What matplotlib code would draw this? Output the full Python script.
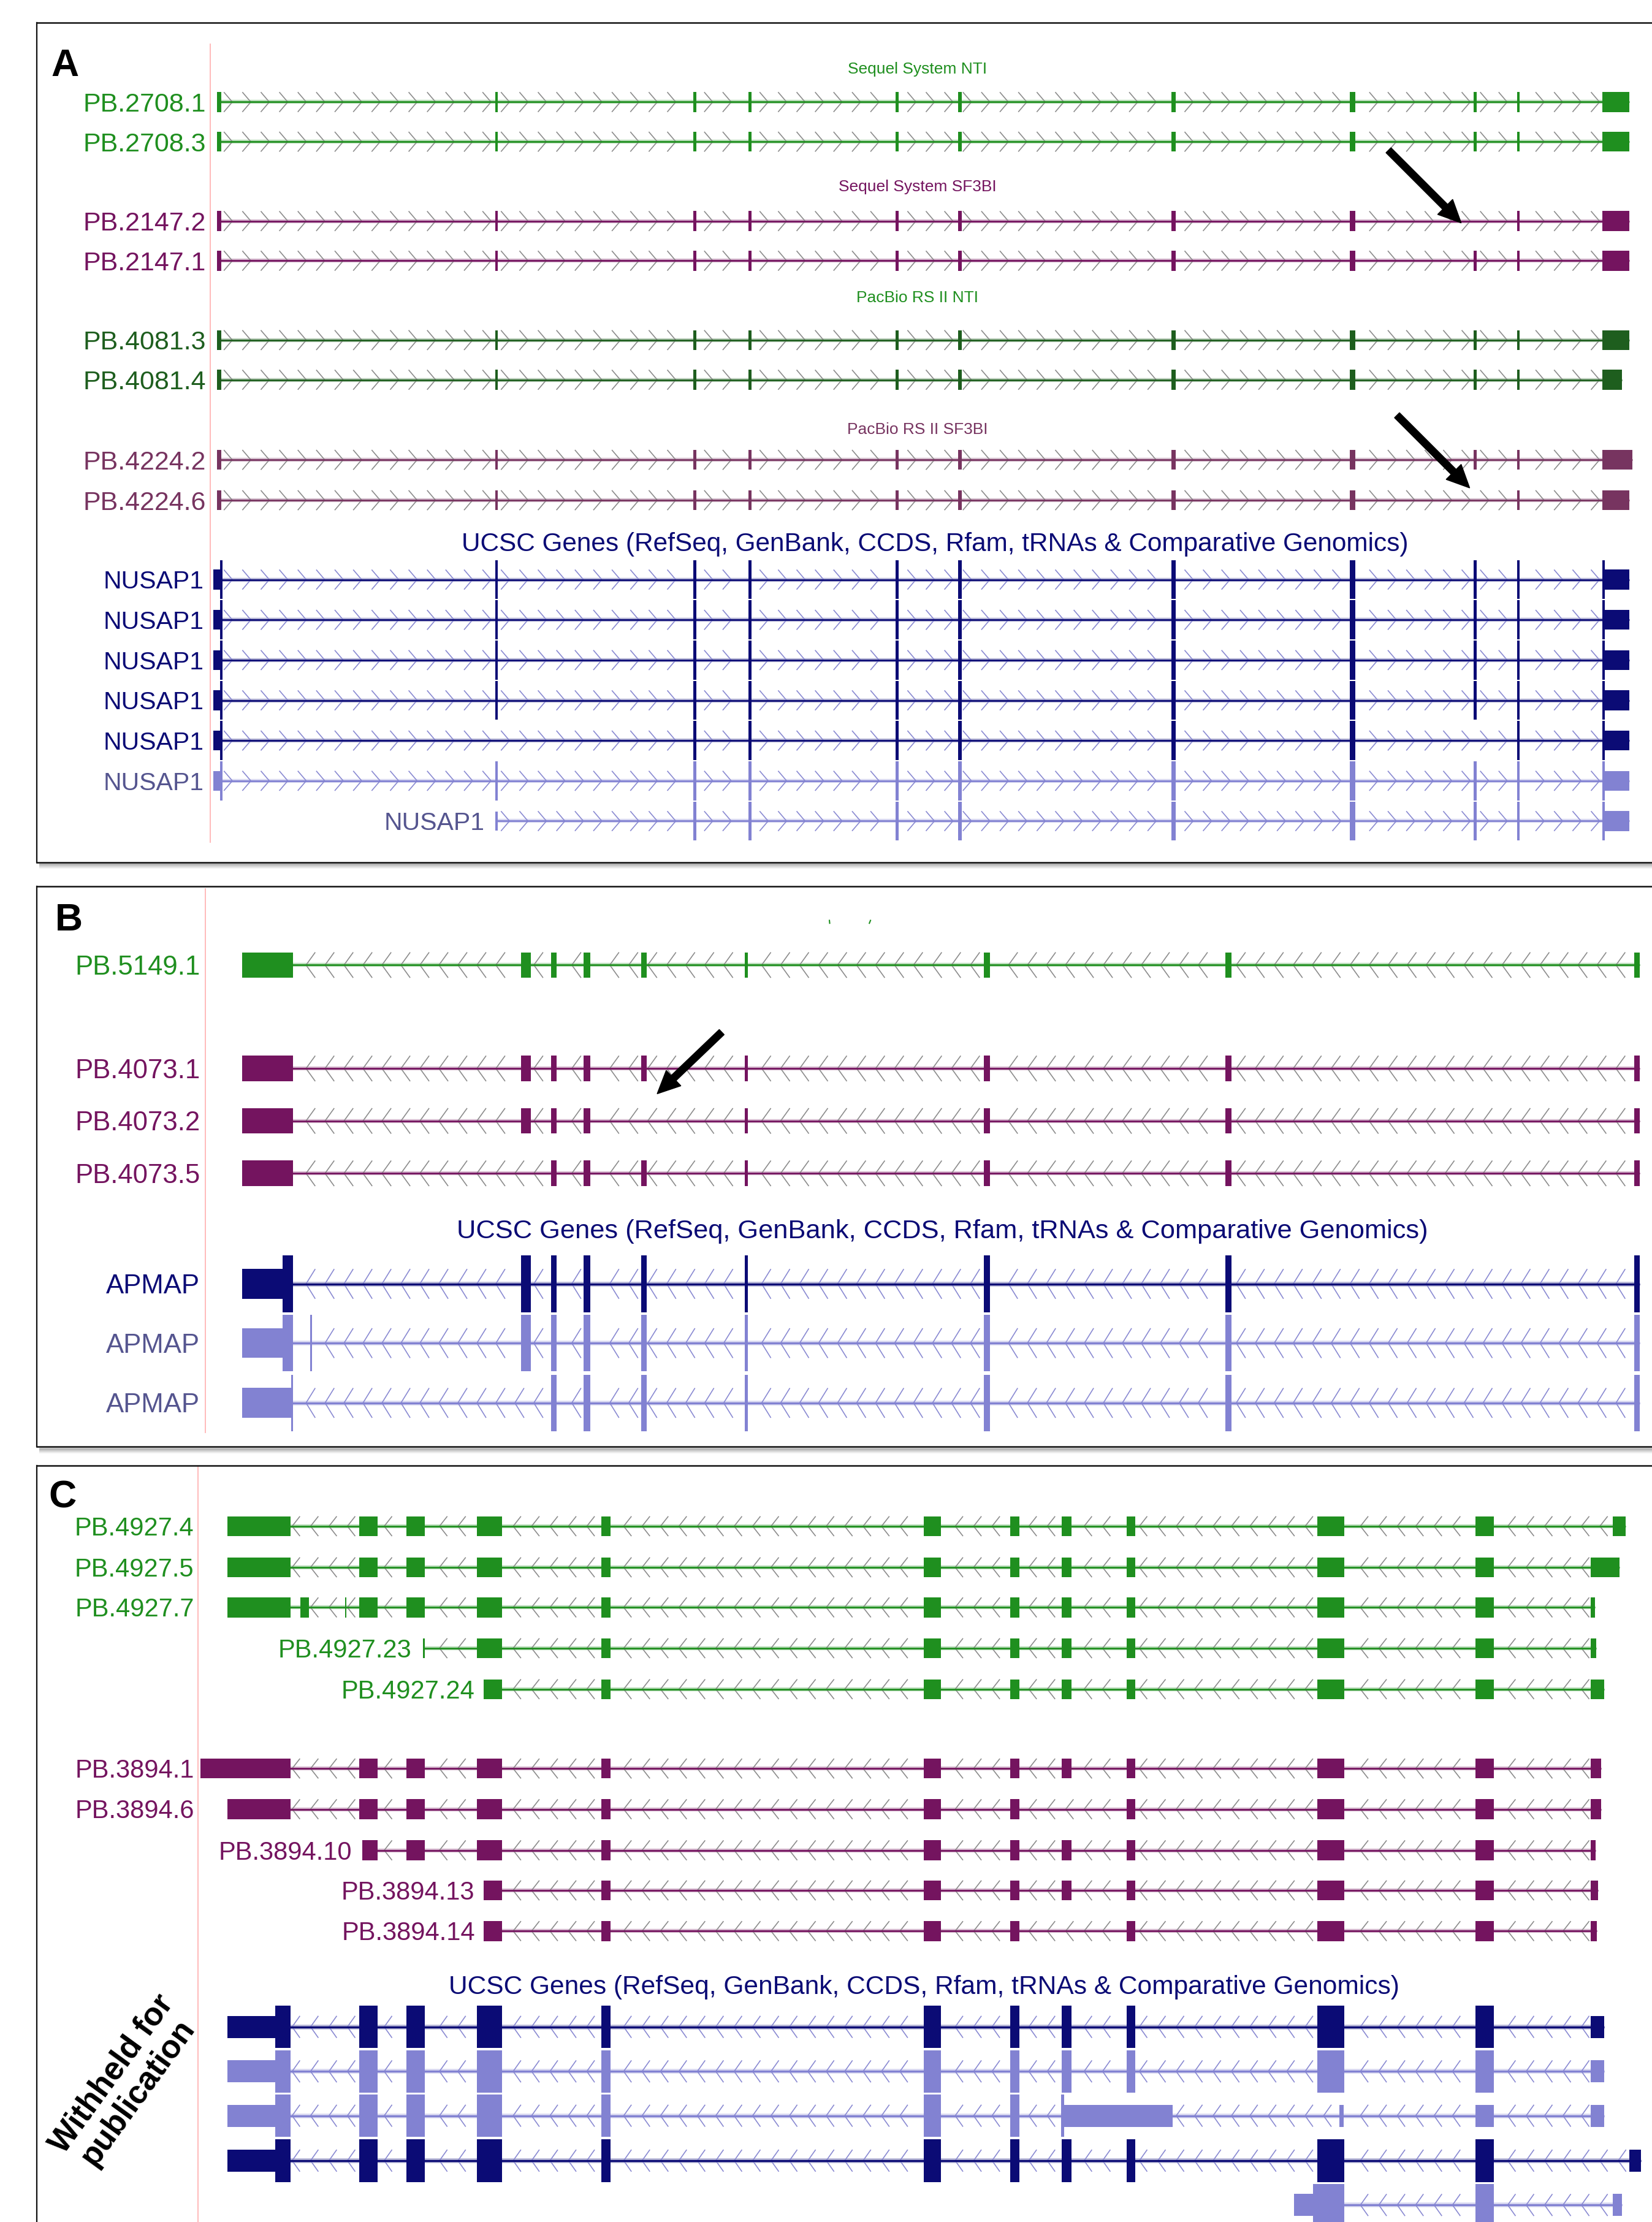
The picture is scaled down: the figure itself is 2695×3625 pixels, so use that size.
import numpy as np
import matplotlib.pyplot as plt
from matplotlib.collections import LineCollection
from matplotlib.patches import FancyArrow

plt.rcParams['font.family'] = ['Liberation Sans', 'DejaVu Sans']

# ---------------- data: exon coordinates ----------------
# panel A : NUSAP1 (+ strand)
a_pb_names = ['PB.2708.1', 'PB.2708.3', 'PB.2147.2', 'PB.2147.1',
              'PB.4081.3', 'PB.4081.4', 'PB.4224.2', 'PB.4224.6']
a_exons = [(153.3, 156.0), (349.7, 351.5), (489.3, 491.3), (528.3, 530.3),
           (632.3, 634.3), (676.3, 678.8), (827.0, 830.0), (952.8, 956.6),
           (1040.3, 1042.3), (1070.7, 1072.5)]
a_pb_used = [[0, 1, 2, 3, 4, 5, 6, 7, 8, 9],
             [0, 1, 2, 3, 4, 5, 6, 7, 8, 9],
             [0, 1, 2, 3, 4, 5, 6, 7, 9],        # exon 8 skipped (arrow)
             [0, 1, 2, 3, 4, 5, 6, 7, 8, 9],
             [0, 1, 2, 3, 4, 5, 6, 7, 8, 9],
             [0, 1, 2, 3, 4, 5, 6, 7, 8, 9],
             [0, 1, 2, 3, 4, 5, 6, 7, 8, 9],
             [0, 1, 2, 3, 4, 5, 6, 7, 9]]        # exon 8 skipped (arrow)
a_pb_last = [(1131, 1150), (1131, 1150), (1131, 1150), (1131, 1150),
             (1131, 1150), (1131, 1145), (1131, 1152), (1131, 1150)]
a_titles = ['Sequel System NTI', 'Sequel System SF3BI', 'PacBio RS II NTI', 'PacBio RS II SF3BI']

a_ucsc_names = ['NUSAP1'] * 7
a_ucsc_first_utr = (150.5, 155.5)
a_ucsc_first_cds = (155.5, 157.0)
a_ucsc_last_cds = (1131.0, 1132.6)
a_ucsc_last_utr = (1132.6, 1150.0)
a_ucsc_used = [[1, 2, 3, 4, 5, 6, 7, 8, 9],
               [1, 2, 3, 4, 5, 6, 7, 8, 9],
               [1, 2, 3, 4, 5, 6, 7, 8, 9],
               [1, 2, 3, 4, 5, 6, 7, 8, 9],
               [2, 3, 4, 5, 6, 7, 9],
               [1, 2, 3, 4, 5, 6, 7, 8, 9],
               [2, 3, 4, 5, 6, 7, 8, 9]]
a_ucsc_has_first = [True, True, True, True, True, True, False]
a_ucsc_light = [False, False, False, False, False, True, True]

# panel B : APMAP (- strand)
b_pb_names = ['PB.5149.1', 'PB.4073.1', 'PB.4073.2', 'PB.4073.5']
b_exons = [(171.0, 206.6), (367.6, 374.5), (389.0, 393.0), (411.8, 416.7),
           (452.6, 456.4), (525.5, 528.0), (694.5, 698.6), (865.0, 869.0),
           (1153.5, 1157.5)]
b_pb_used = [[0, 1, 2, 3, 4, 5, 6, 7, 8],
             [0, 1, 2, 3, 4, 5, 6, 7, 8],
             [0, 1, 2, 3, 5, 6, 7, 8],           # exon 4 skipped (arrow)
             [0, 2, 3, 4, 5, 6, 7, 8]]
b_ucsc_names = ['APMAP', 'APMAP', 'APMAP']
b_ucsc_utr = [[(171.0, 199.4)], [(171.0, 199.4)], [(171.0, 206.6)]]
b_ucsc_cds = [[(199.4, 206.6)], [(199.4, 206.6), (219.0, 220.3)], [(205.6, 206.8)]]
b_ucsc_used = [[1, 2, 3, 4, 5, 6, 7, 8],
               [1, 2, 3, 4, 5, 6, 7, 8],
               [2, 3, 4, 5, 6, 7, 8]]
b_ucsc_light = [False, True, True]

# panel C : (- strand)
c_exons = [(160.7, 205.2), (253.6, 266.3), (286.9, 299.8), (336.5, 354.4),
           (424.5, 430.9), (652.2, 664.1), (712.8, 719.7), (749.2, 756.1),
           (795.4, 801.4), (929.9, 948.8), (1041.6, 1054.5)]
c_pb_names = ['PB.4927.4', 'PB.4927.5', 'PB.4927.7', 'PB.4927.23', 'PB.4927.24',
              'PB.3894.1', 'PB.3894.6', 'PB.3894.10', 'PB.3894.13', 'PB.3894.14']
c_pb_used = [[0, 1, 2, 3, 4, 5, 6, 7, 8, 9, 10],
             [0, 1, 2, 3, 4, 5, 6, 7, 8, 9, 10],
             [0, 1, 2, 3, 4, 5, 6, 7, 8, 9, 10],
             [3, 4, 5, 6, 7, 8, 9, 10],
             [4, 5, 6, 7, 8, 9, 10],
             [1, 2, 3, 4, 5, 6, 7, 8, 9, 10],
             [0, 1, 2, 3, 4, 5, 6, 8, 9, 10],
             [2, 3, 4, 5, 6, 7, 8, 9, 10],
             [4, 5, 6, 7, 8, 9, 10],
             [4, 5, 6, 8, 9, 10]]
c_pb_extra = [[(1138.5, 1147.3)],
              [(1122.6, 1143.2)],
              [(211.9, 218.1), (243.4, 244.6), (1122.6, 1125.9)],
              [(298.4, 300.0), (1122.6, 1126.5)],
              [(341.5, 354.4), (1122.6, 1132.3)],
              [(141.6, 205.2), (1122.6, 1130.0)],
              [(1122.6, 1130.0)],
              [(255.8, 266.3), (1122.6, 1126.0)],
              [(341.5, 354.4), (1122.6, 1128.0)],
              [(341.5, 354.4), (1122.6, 1127.0)]]
c_ucsc_cds_idx = [[1, 2, 3, 4, 5, 6, 7, 8, 9, 10],
                  [1, 2, 3, 4, 5, 6, 7, 8, 9, 10],
                  [1, 2, 3, 4, 5, 6],
                  [1, 2, 3, 4, 5, 6, 7, 8, 9, 10],
                  [10]]
c_ucsc_cds_extra = [[(194.2, 205.2)], [(194.2, 205.2)], [(194.2, 205.2), (749.0, 751.0)],
                    [(194.2, 205.2)], [(926.8, 948.8)]]
c_ucsc_utr = [[(160.7, 194.2), (1122.6, 1132.3)],
              [(160.7, 194.2), (1122.6, 1132.3)],
              [(160.7, 194.2), (751.0, 827.5), (945.5, 948.3), (1041.6, 1054.5), (1122.6, 1132.3)],
              [(160.7, 194.2), (1150.0, 1158.0)],
              [(913.4, 926.8), (1138.5, 1145.0)]]
c_ucsc_light = [False, True, True, False, True]

# ---------------- layout / style ----------------
S = 2695 / 1166          # output px per image unit
GREEN, DKGREEN, PURPLE, PLUM = '#1f8f1f', '#1e5e1e', '#74145f', '#773460'
NAVY, LIGHT, LIGHT_TXT = '#0b0b75', '#8282d2', '#55558f'
GRAY_CHEV, BLUE_CHEV = '#8c8c8c', '#8a8ad2'

a_pb_y = [72, 100, 156, 184, 240, 268, 324.5, 353]
a_pb_col = [GREEN, GREEN, PURPLE, PURPLE, DKGREEN, DKGREEN, PLUM, PLUM]
a_title_y = [48, 131, 209, 302]
a_title_col = [GREEN, PURPLE, GREEN, PLUM]
a_ucsc_y = [409, 437.4, 465.8, 494.2, 522.6, 551, 579.4]
b_pb_y = [681, 754, 791, 828]
b_pb_col = [GREEN, PURPLE, PURPLE, PURPLE]
b_ucsc_y = [906, 947.8, 990]
c_pb_y = [1077, 1106, 1134.3, 1163.1, 1192, 1248, 1276.7, 1305.7, 1334, 1362.7]
c_pb_col = [GREEN] * 5 + [PURPLE] * 5
c_pb_lab_x = [137, 137, 137, 290.6, 335.3, 137, 137, 248.4, 334.8, 335.3]
c_ucsc_y = [1430.3, 1461.7, 1493, 1524.7, 1556]

fig = plt.figure(figsize=(26.95, 36.25), dpi=100)
ax = fig.add_axes([0, 0, 1, 1])
ax.set_xlim(0, 1166)
ax.set_ylim(1568, 0)
ax.axis('off')


def label(x, y, s, color, size, ha='right', weight='normal'):
    cap = 0.716 * size / 0.72 / S
    ax.text(x, y + cap / 2, s, ha=ha, va='baseline', color=color,
            fontsize=size, fontweight=weight, zorder=6)


def draw_tx(y, blocks, color, chev_col, direction, chev_h, chev_w, phase, lw=2.0, spacing=13.1):
    # blocks: (x0, x1, height)
    x_lo = min(b[0] for b in blocks)
    x_hi = max(b[1] for b in blocks)
    ax.plot([x_lo, x_hi], [y, y], color=color, lw=lw * 2.3, alpha=0.3,
            solid_capstyle='butt', zorder=2)
    ax.plot([x_lo, x_hi], [y, y], color=color, lw=lw, solid_capstyle='butt', zorder=3)
    segs = []
    k0 = np.floor((x_lo - phase) / spacing)
    for xc in phase + spacing * np.arange(k0, k0 + 200):
        tail = xc - chev_w if direction > 0 else xc + chev_w
        lo, hi = min(xc, tail), max(xc, tail)
        if lo < x_lo + 1 or hi > x_hi - 1:
            continue
        if any(lo < b[1] + 0.5 and hi > b[0] - 0.5 for b in blocks):
            continue
        segs.append([(tail, y - chev_h / 2), (xc, y), (tail, y + chev_h / 2)])
    ax.add_collection(LineCollection(segs, colors=chev_col, linewidths=1.2, zorder=2.5))
    for x0, x1, h in blocks:
        ax.broken_barh([(x0, x1 - x0)], (y - h / 2, h), facecolors=color,
                       edgecolors='none', zorder=4)


def panel_box(top, bottom=None):
    ax.plot([26, 26], [top, bottom if bottom else 1570], color='#111111', lw=1.6, zorder=7)
    ax.plot([26, 1170], [top, top], color='#111111', lw=1.8, zorder=7)
    if bottom:
        for i, a in enumerate([0.35, 0.25, 0.16, 0.08]):
            ax.plot([28, 1170], [bottom + 1 + i * 0.9, bottom + 1 + i * 0.9],
                    color='#555555', lw=2.2, alpha=a, zorder=6)
        ax.plot([26, 1170], [bottom, bottom], color='#111111', lw=1.8, zorder=7)


# ---------------- panel A ----------------
panel_box(16, 608.5)
ax.plot([148.5, 148.5], [31, 594.5], color='#ffb4b4', lw=1.3, zorder=1)
label(46, 44, 'A', 'black', 45, ha='center', weight='bold')
for t, ty, tc in zip(a_titles, a_title_y, a_title_col):
    label(647.5, ty, t, tc, 19, ha='center')
for name, y, col, used, last in zip(a_pb_names, a_pb_y, a_pb_col, a_pb_used, a_pb_last):
    blocks = [(a_exons[i][0], a_exons[i][1], 14) for i in used] + [(last[0], last[1], 14)]
    draw_tx(y, blocks, col, GRAY_CHEV, 1, 14, 6, 164.0, spacing=13.04)
    label(145.5, y, name, col, 31)
label(660, 382.5, 'UCSC Genes (RefSeq, GenBank, CCDS, Rfam, tRNAs & Comparative Genomics)', NAVY, 30.5, ha='center')
for k, (name, y) in enumerate(zip(a_ucsc_names, a_ucsc_y)):
    col = LIGHT if a_ucsc_light[k] else NAVY
    blocks = [(a_exons[i][0], a_exons[i][1], 27.5) for i in a_ucsc_used[k]]
    if a_ucsc_has_first[k]:
        blocks += [(a_ucsc_first_utr[0], a_ucsc_first_utr[1], 14),
                   (a_ucsc_first_cds[0], a_ucsc_first_cds[1], 27.5)]
    else:
        blocks += [(349.7, 351.2, 13)]
    blocks += [(a_ucsc_last_cds[0], a_ucsc_last_cds[1], 27.5),
               (a_ucsc_last_utr[0], a_ucsc_last_utr[1], 14)]
    draw_tx(y, blocks, col, BLUE_CHEV, 1, 14, 6, 164.0, spacing=13.04)
    lab_x = 144 if a_ucsc_has_first[k] else 342
    label(lab_x, y, name, LIGHT_TXT if a_ucsc_light[k] else NAVY, 29.5)

ax.add_patch(FancyArrow(980, 106, 40, 40, width=5, head_width=15, head_length=16,
                        length_includes_head=False, color='black', zorder=8))
ax.add_patch(FancyArrow(986, 293, 40, 40, width=5, head_width=15, head_length=16,
                        length_includes_head=False, color='black', zorder=8))

# ---------------- panel B ----------------
panel_box(625.5, 1021)
ax.plot([144.8, 144.8], [627, 1011], color='#ffb4b4', lw=1.3, zorder=1)
label(48.5, 647, 'B', 'black', 45, ha='center', weight='bold')
ax.plot([585.4, 585.6], [649.5, 651.5], color=GREEN, lw=1.5)
ax.plot([613.6, 614.4], [651.5, 649.5], color=GREEN, lw=1.5)
for name, y, col, used in zip(b_pb_names, b_pb_y, b_pb_col, b_pb_used):
    blocks = [(b_exons[i][0], b_exons[i][1], 18) for i in used]
    draw_tx(y, blocks, col, GRAY_CHEV, -1, 18, 6.5, 216.0, spacing=13.4)
    label(141.5, y, name, col, 31.5)
label(665, 867, 'UCSC Genes (RefSeq, GenBank, CCDS, Rfam, tRNAs & Comparative Genomics)', NAVY, 31.2, ha='center')
for k, (name, y) in enumerate(zip(b_ucsc_names, b_ucsc_y)):
    col = LIGHT if b_ucsc_light[k] else NAVY
    blocks = [(b_exons[i][0], b_exons[i][1], 40) for i in b_ucsc_used[k]]
    blocks += [(u0, u1, 21) for u0, u1 in b_ucsc_utr[k]]
    blocks += [(c0, c1, 40) for c0, c1 in b_ucsc_cds[k]]
    draw_tx(y, blocks, col, BLUE_CHEV, -1, 21, 6.5, 216.0, lw=2.4, spacing=13.4)
    label(141, y, name, LIGHT_TXT if b_ucsc_light[k] else NAVY, 31.5)

ax.add_patch(FancyArrow(509.4, 728.3, -34, 32.5, width=5, head_width=15, head_length=16,
                        length_includes_head=False, color='black', zorder=8))

# ---------------- panel C ----------------
panel_box(1034.4)
ax.plot([139.9, 139.9], [1035, 1568], color='#ffb4b4', lw=1.3, zorder=1)
label(44, 1054, 'C', 'black', 45, ha='center', weight='bold')
for name, y, col, used, extra, lx in zip(c_pb_names, c_pb_y, c_pb_col, c_pb_used, c_pb_extra, c_pb_lab_x):
    blocks = [(c_exons[i][0], c_exons[i][1], 14) for i in used] + [(e0, e1, 14) for e0, e1 in extra]
    draw_tx(y, blocks, col, GRAY_CHEV, -1, 14, 5.5, 765.2, spacing=13.0)
    label(lx, y, name, col, 30)
label(652.4, 1400.7, 'UCSC Genes (RefSeq, GenBank, CCDS, Rfam, tRNAs & Comparative Genomics)', NAVY, 30.6, ha='center')
for k, y in enumerate(c_ucsc_y):
    col = LIGHT if c_ucsc_light[k] else NAVY
    blocks = [(c_exons[i][0], c_exons[i][1], 30) for i in c_ucsc_cds_idx[k]]
    blocks += [(c0, c1, 30) for c0, c1 in c_ucsc_cds_extra[k]]
    blocks += [(u0, u1, 15.5) for u0, u1 in c_ucsc_utr[k]]
    draw_tx(y, blocks, col, BLUE_CHEV, -1, 15.5, 5.5, 765.2, lw=2.4, spacing=13.0)

ax.text(88, 1470, 'Withheld for\npublication', rotation=54, ha='center', va='center',
        rotation_mode='anchor', multialignment='center', fontsize=38, fontweight='bold',
        color='black', linespacing=1.05, zorder=8)

fig.savefig('out.png', dpi=100, facecolor='white')
